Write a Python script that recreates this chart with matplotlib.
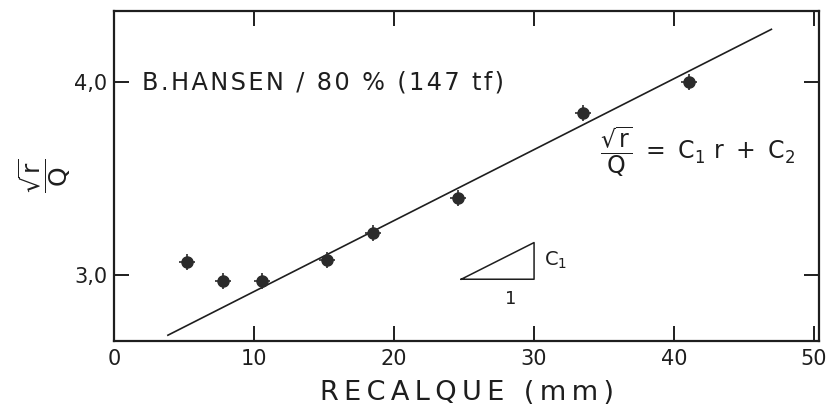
import matplotlib
matplotlib.use("Agg")
import matplotlib.pyplot as plt

plt.rcParams["font.family"] = ["DejaVu Sans"]
plt.rcParams["mathtext.fontset"] = "dejavusans"
plt.rcParams["mathtext.default"] = "regular"

# medidos: recalque (mm) x sqrt(r)/Q
recalque = [5.2, 7.75, 10.6, 15.2, 18.5, 24.6, 33.5, 41.1]
razao = [3.07, 2.97, 2.97, 3.08, 3.22, 3.40, 3.84, 4.00]

# reta ajustada (extremos)
reta_x = [3.85, 46.95]
reta_y = [2.69, 4.275]

x_ticks = [0, 10, 20, 30, 40, 50]
y_ticks = [3.0, 4.0]
y_tick_labels = ["3,0", "4,0"]

# triangulo de inclinacao C1
tri_x = [24.8, 30.0, 30.0, 24.8]
tri_y = [2.98, 2.98, 3.17, 2.98]

ink = "#1e1e1e"


def spaced(text, gap="\u2009"):
    # espaca as letras como no letreiro original
    return gap.join(text)


fig = plt.figure(figsize=(8.37, 4.16), dpi=100)
ax = fig.add_axes([0.1362, 0.1803, 0.8423, 0.7933])

ax.plot(reta_x, reta_y, color=ink, lw=1.2)
ax.plot(recalque, razao, "o", color="#2b2b2b", ms=8, mec="#2b2b2b")
ax.plot(recalque, razao, "+", color="#2b2b2b", ms=12, mew=1.2)

ax.plot(tri_x, tri_y, color=ink, lw=1.1)

ax.set_xlim(0.45, 50.35)
ax.set_ylim(2.66, 4.37)
ax.set_xticks(x_ticks)
ax.set_yticks(y_ticks)
ax.set_yticklabels(y_tick_labels)

for side in ["left", "right", "top", "bottom"]:
    ax.spines[side].set_linewidth(1.6)
    ax.spines[side].set_color(ink)

ax.tick_params(axis="both", direction="in", length=11, width=1.4, color=ink,
               top=True, right=True, labelsize=15, labelcolor=ink)
ax.tick_params(axis="x", pad=6)
ax.tick_params(axis="y", pad=5)

ax.set_xlabel(spaced("RECALQUE (mm)"), fontsize=19.5, color=ink, labelpad=8)
ax.set_ylabel(r"$\dfrac{\sqrt{r}}{Q}$", fontsize=18, color=ink,
              rotation=90, labelpad=1)

ax.text(2.0, 4.0, spaced("B.HANSEN / 80 % (147 tf)", "\u200a"),
        fontsize=17.3, color=ink, ha="left", va="center")
ax.text(34.7, 3.64, r"$\dfrac{\sqrt{r}}{Q}\ =\ C_1\ r\ +\ C_2$", fontsize=17,
        color=ink, ha="left", va="center")
ax.text(30.7, 3.08, r"$C_1$", fontsize=14, color=ink, ha="left", va="center")
ax.text(28.3, 2.88, "1", fontsize=13, color=ink, ha="center", va="center")

fig.savefig("out.png", dpi=100)
